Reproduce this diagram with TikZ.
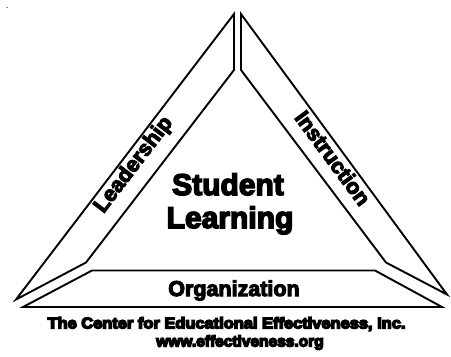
\documentclass[tikz,border=0pt]{standalone}
\usepackage{fontspec}
\setmainfont{Liberation Sans}
% bold faces, stroked a little heavier
\font\titlefont="Liberation Sans/B:embolden=5" at 30bp
\font\sidefont="Liberation Sans/B:embolden=5" at 21.5bp
\font\footfont="Liberation Sans/B:embolden=9" at 15.5bp
\begin{document}
\begin{tikzpicture}[x=1bp,y=-1bp,
  band/.style={draw=black,line width=1.9bp,line join=miter,fill=white},
  title/.style={font=\titlefont,anchor=base,inner sep=0pt},
  sidelabel/.style={font=\sidefont,inner sep=0pt},
  footer/.style={font=\footfont,inner sep=0pt}]
  \useasboundingbox (0,0) rectangle (451,356);
  % stray speck in the corner
  \fill[black!45] (6,6.5) rectangle (7.5,8);
  % left band
  \draw[band] (234,14) -- (234,70) -- (86,262.5) -- (16,299.5) -- cycle;
  % right band
  \draw[band] (241,14) -- (241,70) -- (386,262.5) -- (447,294.5) -- cycle;
  % bottom band
  \draw[band] (92,270.5) -- (375,270.5) -- (442,307) -- (23,307) -- cycle;
  % labels
  \node[title] (student) at (228,195) {Student};
  \node[title] (learning) at (230,228) {Learning};
  \node[sidelabel] (org) at (234,290.5) {Organization};
  \node[sidelabel,rotate=52.6] (lead) at (134,165) {Leadership};
  \node[sidelabel,rotate=-53.6] (instr) at (333,158) {Instruction};
  \node[footer,xscale=1.06] (center) at (226.5,324) {The Center for Educational Effectiveness, Inc.};
  \node[footer] (web) at (240,342.5) {www.effectiveness.org};
\end{tikzpicture}
\end{document}
